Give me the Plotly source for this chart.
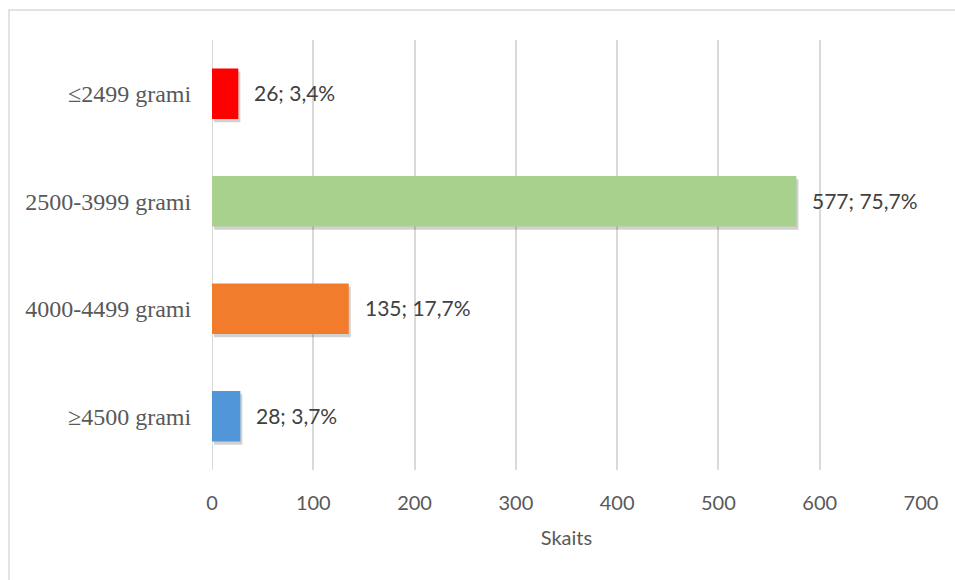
import plotly.graph_objects as go

categories = ["≤2499 grami", "2500-3999 grami", "4000-4499 grami", "≥4500 grami"]
counts = [26, 577, 135, 28]
percents = ["3,4%", "75,7%", "17,7%", "3,7%"]
colors = ["#FF0000", "#A9D18E", "#F07C2C", "#5296DA"]
x_ticks = [0, 100, 200, 300, 400, 500, 600, 700]

labels = [f"{c}; {p}" for c, p in zip(counts, percents)]
sans = "Lato, Open Sans, sans-serif"

fig = go.Figure()
# soft shadow
fig.add_trace(go.Bar(
    y=categories, x=counts, base=[2] * len(counts), orientation="h",
    marker=dict(color="rgba(0,0,0,0.18)", line=dict(width=0)),
    width=0.47, offset=-0.235 + 0.03, hoverinfo="skip", showlegend=False,
))
fig.add_trace(go.Bar(
    y=categories, x=counts, orientation="h",
    marker=dict(color=colors, line=dict(width=0)),
    width=0.47, offset=-0.235,
    showlegend=False,
))

annotations = [
    dict(x=c, y=cat, xref="x", yref="y", text=lab, showarrow=False,
         xanchor="left", yanchor="middle", xshift=14, yshift=1,
         font=dict(family=sans, size=21, color="#404040"))
    for c, cat, lab in zip(counts, categories, labels)
]

fig.update_layout(
    width=955, height=580,
    margin=dict(l=212, r=34, t=40, b=110),
    paper_bgcolor="white", plot_bgcolor="white",
    barmode="overlay",
    annotations=annotations,
    xaxis=dict(
        range=[0, 700], tickvals=x_ticks,
        showgrid=True, gridcolor="#d9d9d9", gridwidth=2,
        zeroline=False, showline=False,
        ticks="outside", ticklen=15, tickcolor="rgba(0,0,0,0)",
        tickfont=dict(family=sans, size=20, color="#595959"),
        title=dict(text="Skaits", standoff=17,
                   font=dict(family=sans, size=20, color="#595959")),
        fixedrange=True,
    ),
    yaxis=dict(
        categoryorder="array", categoryarray=categories, autorange="reversed",
        showgrid=False, zeroline=False, showline=False,
        ticks="outside", ticklen=15, tickcolor="rgba(0,0,0,0)",
        tickfont=dict(family="Liberation Serif, Times New Roman, serif", size=24, color="#595959"),
        fixedrange=True,
    ),
    shapes=[
        dict(type="rect", xref="paper", yref="paper",
             x0=-0.2863, x1=1.2, y0=-0.4, y1=1.0698,
             line=dict(color="#d9d9d9", width=1.5), fillcolor="rgba(0,0,0,0)", layer="below"),
        dict(type="line", xref="x", yref="paper", x0=0, x1=0, y0=0, y1=1,
             line=dict(color="#d9d9d9", width=2), layer="below"),
    ],
)

fig.write_html("out.html")
